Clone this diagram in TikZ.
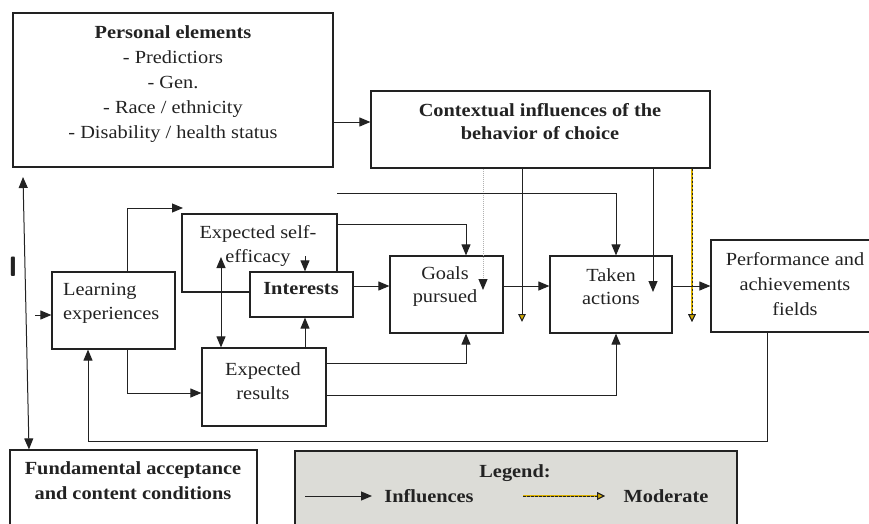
\documentclass[tikz,border=0pt]{standalone}
\usepackage{fontspec}
\setmainfont{Liberation Serif}[FakeStretch=1.1]
\usetikzlibrary{arrows.meta}
\definecolor{ink}{HTML}{222222}
\definecolor{modyel}{HTML}{D9B000}
\definecolor{legfill}{HTML}{DCDCD7}
\newcommand\mysz{\fontsize{18.5}{24}\selectfont}
\newcommand\myszw{\fontsize{18.5}{25.2}\selectfont}
\begin{document}
\begin{tikzpicture}[x=1pt,y=-1pt,
  box/.style={draw=ink, line width=1.2pt, inner sep=0pt, anchor=center},
  txt/.style={text=ink, align=center, inner sep=0pt, font=\mysz},
  txtw/.style={text=ink, align=center, inner sep=0pt, font=\myszw},
  arr/.style={draw=ink, line width=1pt, -{Triangle[length=11pt,width=9pt]}},
  darr/.style={draw=ink, line width=1pt, {Triangle[length=11pt,width=9pt]}-{Triangle[length=11pt,width=9pt]}},
  ln/.style={draw=ink, line width=1pt},
  dotarr/.style={draw=gray!60, line width=1pt, dash pattern=on 1pt off 1pt, -{Triangle[length=11pt,width=9pt,color=ink]}},
  yarr/.style={draw=ink, line width=1pt, -{Triangle[length=8pt,width=7.5pt,color=ink,fill=modyel]}},
  moder/.style={draw=ink, line width=1pt, dash pattern=on 2.5pt off 1.5pt,
     preaction={draw=modyel, line width=1.1pt, solid},
     -{Triangle[length=8pt,width=7.5pt,color=ink,fill=modyel]}}
]
\useasboundingbox (0,0) rectangle (869,523);

% boxes
\node[box, minimum width=320pt, minimum height=154pt] (pe) at (173,90) {};
\node[box, minimum width=339pt, minimum height=77pt] (ctx) at (540.5,129.5) {};
\node[box, minimum width=123pt, minimum height=77pt] (le) at (113.5,310.5) {};
\node[box, minimum width=155pt, minimum height=78pt] (se) at (259.5,253) {};
\node[box, fill=white, minimum width=103pt, minimum height=45pt] (in) at (301.5,294.5) {};
\node[box, minimum width=124pt, minimum height=78pt] (er) at (264,387) {};
\node[box, minimum width=113pt, minimum height=77pt] (gp) at (446.5,294.5) {};
\node[box, minimum width=122pt, minimum height=77pt] (ta) at (611,294.5) {};
\node[box, minimum width=169pt, minimum height=92pt] (pf) at (795.5,286) {};
\node[box, minimum width=247pt, minimum height=90pt] (fu) at (133.5,495) {};
\node[box, fill=legfill, minimum width=442pt, minimum height=89pt] (lg) at (516,495.5) {};

% texts
\node[txtw] (pet) at (173,84) {\textbf{Personal elements}\\- Predictiors\\- Gen.\\- Race / ethnicity\\- Disability / health status};
\node[txt, font=\fontsize{18.5}{23}\selectfont\bfseries] (ctxt) at (540,122) {Contextual influences of the\\behavior of choice};
\node[txt, align=left, anchor=west] (let) at (63,303) {Learning\\experiences};
\node[txt] (set) at (258,246) {Expected self-\\efficacy};
\node[txt, font=\mysz\bfseries] (int) at (301,289) {Interests};
\node[txt] (ert) at (263,381) {Expected\\results};
\node[txt, font=\fontsize{18.5}{23}\selectfont] (gpt) at (445,287) {Goals\\pursued};
\node[txt, font=\fontsize{18.5}{23}\selectfont] (tat) at (611,287) {Taken\\actions};
\node[txtw] (pft) at (795,284) {Performance and\\achievements\\fields};
\node[txtw, font=\myszw\bfseries] (fut) at (133,481) {Fundamental acceptance\\and content conditions};
\node[txt, font=\mysz\bfseries] (lgt) at (515,473) {Legend:};
\node[txt, font=\mysz\bfseries] (lgi) at (429,496) {Influences};
\node[txt, font=\mysz\bfseries] (lgm) at (666,496) {Moderate};
\node[text=ink, inner sep=0pt, font=\fontsize{28}{28}\selectfont\sffamily\bfseries] (bar) at (13,267) {I};

% free-end coordinates
\coordinate (dotEnd) at (483,290);
\coordinate (yEnd) at (522,322);
\coordinate (sEnd) at (653,292);
\coordinate (mEnd) at (692,322);
\coordinate (topStart) at (337,193);
\coordinate (leTip) at (183,208);
\coordinate (seIn) at (221,257);
\coordinate (seSrc) at (305,256);
\coordinate (inSrc) at (35,315);
\coordinate (peTip) at (23,177);
\coordinate (fbCorner) at (767,441);
\coordinate (fbLeft) at (88,441);
\coordinate (lgA1) at (305,496);
\coordinate (lgA2) at (372,496);
\coordinate (lgM1) at (523,496);
\coordinate (lgM2) at (605,496);

% connectors
\draw[arr] (pe.east |- 0,122) -- (ctx.west |- 0,122);
\draw[dotarr] (ctx.south -| dotEnd) -- (dotEnd);
\draw[yarr] (ctx.south -| yEnd) -- (yEnd);
\draw[arr] (ctx.south -| sEnd) -- (sEnd);
\draw[moder] (ctx.south -| mEnd) -- (mEnd);

\draw[arr] (topStart) -| (ta.north -| 616,0);
\draw[arr] (se.east |- 0,224) -| (gp.north -| 466,0);
\draw[arr] (seSrc) -- (in.north -| seSrc);
\draw[arr] (le.north -| 127,0) |- (leTip);
\draw[arr] (le.south -| 127,0) |- (er.west |- 0,393);
\draw[darr] (seIn) -- (er.north -| seIn);
\draw[arr] (er.north -| 305,0) -- (in.south -| 305,0);
\draw[arr] (er.east |- 0,363) -| (gp.south -| 466,0);
\draw[arr] (er.east |- 0,395) -| (ta.south -| 616,0);
\draw[arr] (in.east |- 0,286) -- (gp.west |- 0,286);
\draw[arr] (gp.east |- 0,286) -- (ta.west |- 0,286);
\draw[arr] (ta.east |- 0,286) -- (pf.west |- 0,286);
\draw[arr] (pf.south -| fbCorner) -- (fbCorner) -- (fbLeft) -- (le.south -| fbLeft);
\draw[arr] (inSrc) -- (le.west |- inSrc);
\draw[darr] (fu.north -| 29,0) -- (peTip);

% legend
\draw[arr] (lgA1) -- (lgA2);
\draw[moder] (lgM1) -- (lgM2);
\end{tikzpicture}
\end{document}
